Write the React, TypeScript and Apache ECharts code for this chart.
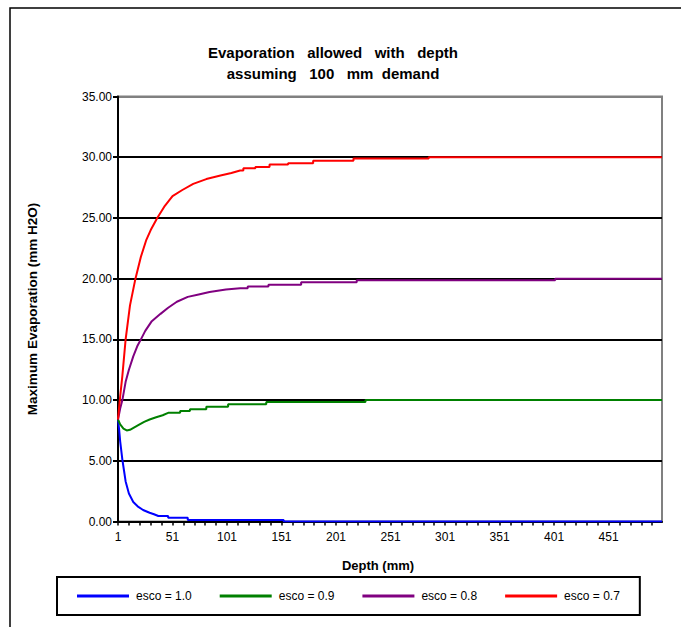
import React, { useEffect, useRef } from "react";
import * as echarts from "echarts";

const titleLines = ["Evaporation   allowed   with   depth", "assuming   100   mm  demand"];
const seriesNames = ["esco = 1.0", "esco = 0.9", "esco = 0.8", "esco = 0.7"];
const seriesColors = ["#0000FF", "#008000", "#800080", "#FF0000"];
const yTicks = [0, 5, 10, 15, 20, 25, 30, 35];

// [depth (mm), max evaporation (mm H2O)]
const esco10: [number, number][] = [
  [1, 8.4], [2, 7.6], [3, 6.6], [5, 5.1], [6.5, 4.2], [8, 3.3], [11, 2.3], [15, 1.6],
  [19, 1.25], [24, 0.95], [30, 0.72], [34, 0.6], [38, 0.45], [47, 0.45], [47, 0.3],
  [65, 0.3], [65, 0.12], [153, 0.12], [153, 0], [500, 0],
];
const esco09: [number, number][] = [
  [1, 8.4], [3, 8.0], [6, 7.65], [9, 7.5], [12, 7.55], [16, 7.75], [20, 7.95], [25, 8.2],
  [30, 8.4], [36, 8.58], [42, 8.75], [47, 8.95], [58, 8.95], [58, 9.1], [67, 9.1],
  [67, 9.25], [82, 9.25], [82, 9.45], [102, 9.45], [102, 9.65], [137, 9.65], [137, 9.85],
  [228, 9.85], [228, 10], [500, 10],
];
const esco08: [number, number][] = [
  [1, 8.4], [3, 9.3], [5, 10], [8, 11.5], [11, 12.5], [15, 13.6], [19, 14.5], [22, 15],
  [26, 15.7], [32, 16.5], [40, 17.1], [47, 17.6], [55, 18.1], [65, 18.5], [75, 18.7],
  [85, 18.9], [100, 19.1], [113, 19.2], [120, 19.2], [120, 19.35], [139, 19.35], [139, 19.5],
  [169, 19.5], [169, 19.7], [220, 19.7], [220, 19.87], [402, 19.87], [402, 20], [500, 20],
];
const esco07: [number, number][] = [
  [1, 8.4], [2, 9.4], [3, 10.3], [5, 12], [8, 15], [12, 17.8], [17, 20], [22, 21.8],
  [27, 23.2], [31, 24], [37, 25], [44, 26], [51, 26.8], [60, 27.3], [70, 27.8], [82, 28.2],
  [95, 28.5], [105, 28.7], [113, 28.9], [116, 28.9], [116, 29.1], [127, 29.1], [127, 29.2],
  [140, 29.2], [140, 29.4], [157, 29.4], [157, 29.5], [180, 29.5], [180, 29.7], [217, 29.7],
  [217, 29.9], [286, 29.9], [286, 30], [500, 30],
];
const seriesData = [esco10, esco09, esco08, esco07];

const FONT = "'Liberation Sans', Arial, sans-serif";

export default function App() {
  const ref = useRef<HTMLDivElement>(null);
  useEffect(() => {
    if (!ref.current) return;
    const chart = echarts.init(ref.current, null, { renderer: "svg" });
    const splitColors = yTicks.map((t, i) => (i === yTicks.length - 1 ? "#808080" : "#000000"));
    chart.setOption({
      animation: false,
      backgroundColor: "#ffffff",
      textStyle: { fontFamily: FONT },
      title: {
        text: titleLines.join("\n"),
        left: 328,
        top: 37,
        textAlign: "center",
        textStyle: { fontFamily: FONT, fontSize: 15, fontWeight: "bold", color: "#000", lineHeight: 21 },
      },
      grid: {
        left: 118,
        right: 19,
        top: 96.5,
        bottom: 105.5,
        show: true,
        borderColor: "#808080",
        borderWidth: 2,
        containLabel: false,
      },
      legend: {
        left: 57,
        top: 577,
        orient: "horizontal",
        data: seriesNames,
        icon: "rect",
        itemWidth: 52,
        itemHeight: 3,
        itemGap: 28,
        padding: [13, 20],
        borderColor: "#000",
        borderWidth: 2,
        textStyle: { fontFamily: FONT, fontSize: 12, color: "#000", padding: [0, 0, 0, 2] },
      },
      xAxis: {
        type: "value",
        min: 0,
        max: 499,
        interval: 10,
        name: "Depth (mm)",
        nameLocation: "middle",
        nameGap: 37,
        nameTextStyle: { fontFamily: FONT, fontSize: 13, fontWeight: "bold", color: "#000", padding: [0, 24, 0, 0] },
        axisLine: { show: true, onZero: false, lineStyle: { color: "#000", width: 2 } },
        axisTick: { show: true, length: 4, lineStyle: { color: "#000", width: 1.5 } },
        axisLabel: {
          margin: 9,
          fontFamily: FONT,
          fontSize: 12,
          color: "#000",
          showMaxLabel: false,
          formatter: (v: number) => (Math.round(v) % 50 === 0 ? String(Math.round(v) + 1) : ""),
        },
        splitLine: { show: false },
      },
      yAxis: {
        type: "value",
        min: 0,
        max: 35,
        interval: 5,
        name: "Maximum Evaporation (mm H2O)",
        nameLocation: "middle",
        nameGap: 79,
        nameRotate: 90,
        nameTextStyle: { fontFamily: FONT, fontSize: 13.5, fontWeight: "bold", color: "#000" },
        axisLine: { show: true, lineStyle: { color: "#000", width: 2 } },
        axisTick: { show: true, length: 5, lineStyle: { color: "#000", width: 2 } },
        axisLabel: {
          margin: 6,
          fontFamily: FONT,
          fontSize: 12,
          color: "#000",
          formatter: (v: number) => v.toFixed(2),
        },
        splitLine: { show: true, lineStyle: { color: splitColors, width: 2 } },
      },
      series: seriesNames.map((name, i) => ({
        name,
        type: "line",
        symbol: "none",
        showSymbol: false,
        color: seriesColors[i],
        lineStyle: { color: seriesColors[i], width: 2 },
        data: seriesData[i].map(([d, v]) => [d - 1, v]),
        z: 3 + i,
      })),
      graphic: [
        {
          type: "rect",
          silent: true,
          shape: { x: 10, y: 8, width: 800, height: 800 },
          style: { fill: "none", stroke: "#000", lineWidth: 1.5 },
        },
      ],
    });
    return () => chart.dispose();
  }, []);
  return (
    <div
      ref={ref}
      style={{ position: "fixed", left: 0, top: 0, width: 681, height: 627 }}
    />
  );
}
